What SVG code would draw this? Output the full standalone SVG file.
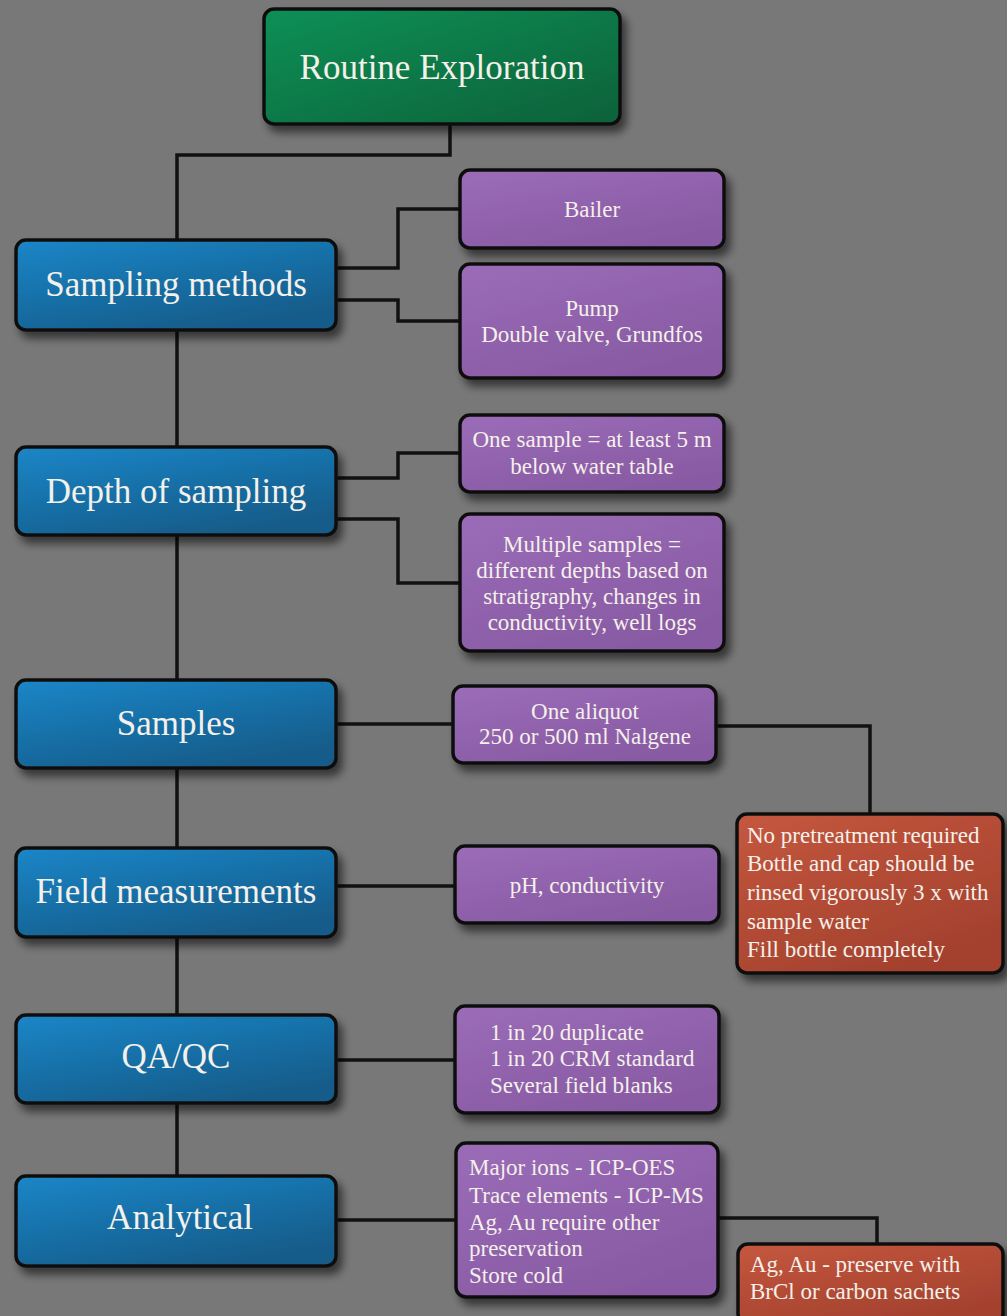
<svg xmlns="http://www.w3.org/2000/svg" width="1007" height="1316" viewBox="0 0 1007 1316">
<defs>
<linearGradient id="gGreen" x1="0" y1="0" x2="1" y2="1"><stop offset="0" stop-color="#0f9056"/><stop offset="1" stop-color="#076139"/></linearGradient>
<linearGradient id="gBlue" x1="0" y1="0" x2="0.6" y2="1"><stop offset="0" stop-color="#1a86c8"/><stop offset="1" stop-color="#185c8a"/></linearGradient>
<linearGradient id="gPurple" x1="0" y1="0" x2="0.6" y2="1"><stop offset="0" stop-color="#9b6cb8"/><stop offset="1" stop-color="#885aa3"/></linearGradient>
<linearGradient id="gRed" x1="0" y1="0" x2="0.6" y2="1"><stop offset="0" stop-color="#c5573e"/><stop offset="1" stop-color="#a3412e"/></linearGradient>
<filter id="sh" x="-10%" y="-10%" width="130%" height="140%"><feDropShadow dx="5" dy="7" stdDeviation="4" flood-color="#000" flood-opacity="0.55"/></filter>
</defs>
<style>
.box{stroke:#111;stroke-width:3.5;filter:url(#sh)}
.green{fill:url(#gGreen)}
.blue{fill:url(#gBlue)}
.purple{fill:url(#gPurple)}
.red{fill:url(#gRed)}
text{font-family:"Liberation Serif","Times New Roman",serif;fill:#f4f0ea}
.big{font-size:35px;text-anchor:middle}
.mid{font-size:23px;text-anchor:middle}
.sm{font-size:23px}
.conn{fill:none;stroke:#111;stroke-width:3.5}
</style>
<rect width="1007" height="1316" fill="#787878"/>
<g id="connectors">
<path class="conn" d="M450,124 V155 H177 V1176"/>
<path class="conn" d="M336,268 H398 V209 H460"/>
<path class="conn" d="M336,300 H398 V321 H460"/>
<path class="conn" d="M336,478 H398 V453 H460"/>
<path class="conn" d="M336,519 H398 V583 H460"/>
<path class="conn" d="M336,724 H453"/>
<path class="conn" d="M716,726 H870 V814"/>
<path class="conn" d="M336,886 H455"/>
<path class="conn" d="M336,1060 H455"/>
<path class="conn" d="M336,1220 H456"/>
<path class="conn" d="M718,1218 H877 V1244"/>
</g>
<g id="routine">
<rect class="box green" x="264" y="9" width="356" height="115" rx="10"/>
<text class="big" x="442" y="79">Routine Exploration</text>
</g>
<g id="sampling-methods">
<rect class="box blue" x="16" y="240" width="320" height="90" rx="10"/>
<text class="big" x="176" y="296">Sampling methods</text>
</g>
<g id="depth">
<rect class="box blue" x="16" y="447" width="320" height="88" rx="10"/>
<text class="big" x="176" y="503">Depth of sampling</text>
</g>
<g id="samples">
<rect class="box blue" x="16" y="680" width="320" height="88" rx="10"/>
<text class="big" x="176" y="735">Samples</text>
</g>
<g id="field">
<rect class="box blue" x="16" y="848" width="320" height="89" rx="10"/>
<text class="big" x="176" y="903">Field measurements</text>
</g>
<g id="qaqc">
<rect class="box blue" x="16" y="1015" width="320" height="88" rx="10"/>
<text class="big" x="176" y="1068">QA/QC</text>
</g>
<g id="analytical">
<rect class="box blue" x="16" y="1176" width="320" height="90" rx="10"/>
<text class="big" x="180" y="1229">Analytical</text>
</g>
<g id="bailer">
<rect class="box purple" x="460" y="170" width="264" height="78" rx="10"/>
<text class="mid" x="592" y="217">Bailer</text>
</g>
<g id="pump">
<rect class="box purple" x="460" y="264" width="264" height="114" rx="10"/>
<text class="mid" x="592" y="316">Pump</text>
<text class="mid" x="592" y="342">Double valve, Grundfos</text>
</g>
<g id="one-sample">
<rect class="box purple" x="460" y="415" width="264" height="77" rx="10"/>
<text class="mid" x="592" y="447">One sample = at least 5 m</text>
<text class="mid" x="592" y="474">below water table</text>
</g>
<g id="multiple-samples">
<rect class="box purple" x="460" y="514" width="264" height="137" rx="10"/>
<text class="mid" x="592" y="552">Multiple samples =</text>
<text class="mid" x="592" y="578">different depths based on</text>
<text class="mid" x="592" y="604">stratigraphy, changes in</text>
<text class="mid" x="592" y="630">conductivity, well logs</text>
</g>
<g id="aliquot">
<rect class="box purple" x="453" y="686" width="263" height="77" rx="10"/>
<text class="mid" x="585" y="719">One aliquot</text>
<text class="mid" x="585" y="744">250 or 500 ml Nalgene</text>
</g>
<g id="ph">
<rect class="box purple" x="455" y="846" width="264" height="77" rx="10"/>
<text class="mid" x="587" y="893">pH, conductivity</text>
</g>
<g id="qaqc-detail">
<rect class="box purple" x="455" y="1006" width="264" height="107" rx="10"/>
<text class="sm" x="490" y="1040">1 in 20 duplicate</text>
<text class="sm" x="490" y="1066">1 in 20 CRM standard</text>
<text class="sm" x="490" y="1093">Several field blanks</text>
</g>
<g id="analytical-detail">
<rect class="box purple" x="456" y="1143" width="262" height="154" rx="10"/>
<text class="sm" x="469" y="1175">Major ions - ICP-OES</text>
<text class="sm" x="469" y="1203">Trace elements - ICP-MS</text>
<text class="sm" x="469" y="1230">Ag, Au require other</text>
<text class="sm" x="469" y="1256">preservation</text>
<text class="sm" x="469" y="1283">Store cold</text>
</g>
<g id="pretreatment">
<rect class="box red" x="737" y="814" width="266" height="159" rx="10"/>
<text class="sm" x="747" y="843">No pretreatment required</text>
<text class="sm" x="747" y="871">Bottle and cap should be</text>
<text class="sm" x="747" y="900">rinsed vigorously 3 x with</text>
<text class="sm" x="747" y="929">sample water</text>
<text class="sm" x="747" y="957">Fill bottle completely</text>
</g>
<g id="preserve">
<rect class="box red" x="738" y="1244" width="265" height="80" rx="10"/>
<text class="sm" x="750" y="1272">Ag, Au - preserve with</text>
<text class="sm" x="750" y="1299">BrCl or carbon sachets</text>
</g>
</svg>
